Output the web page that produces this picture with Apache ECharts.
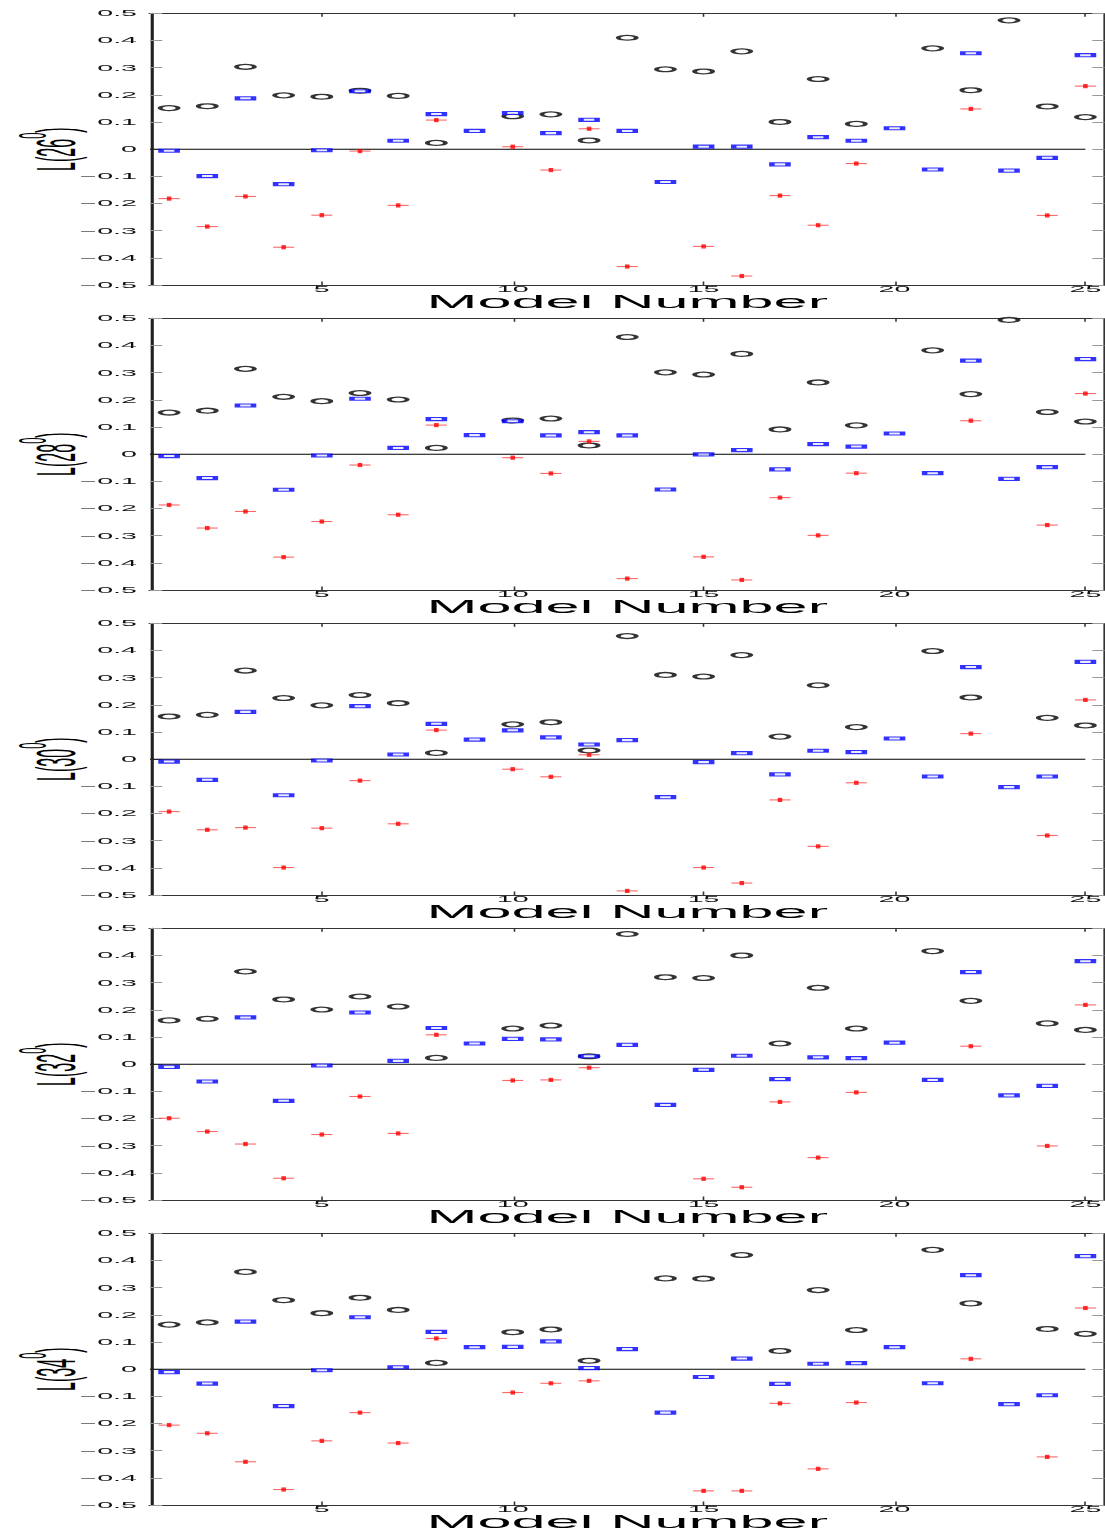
<!DOCTYPE html>
<html><head><meta charset="utf-8">
<script src="https://cdn.jsdelivr.net/npm/echarts@6/dist/echarts.min.js"></script>
<style>
html,body{margin:0;padding:0;background:#fff;overflow:hidden;width:1105px;height:1531px}
#c{width:315.714px;height:1531px;transform:scaleX(3.5);transform-origin:0 0;}
</style>
</head><body><div id="c"></div>
<script>
// ---- data ----
const models = [1,2,3,4,5,6,7,8,9,10,11,12,13,14,15,16,17,18,19,20,21,22,23,24,25];
const angles = ['26','28','30','32','34'];
const xTickValues = [5,10,15,20,25];

const black26 = [0.151,0.158,0.303,0.198,0.193,0.215,0.196,0.023,null,0.121,0.128,0.032,0.410,0.294,0.286,0.360,0.100,0.258,0.093,null,0.371,0.217,0.474,0.157,0.118];
const blue26  = [-0.006,-0.099,0.187,-0.129,-0.004,0.213,0.031,0.129,0.067,0.133,0.059,0.108,0.067,-0.121,0.009,0.009,-0.056,0.044,0.031,0.077,-0.075,0.353,-0.079,-0.032,0.346];
const red26   = [-0.182,-0.285,-0.174,-0.361,-0.243,-0.007,-0.207,0.107,null,0.009,-0.077,0.075,-0.432,null,-0.358,-0.467,-0.171,-0.280,-0.053,null,null,0.148,null,-0.244,0.232];

const black28 = [0.153,0.160,0.314,0.211,0.195,0.225,0.201,0.023,null,0.124,0.131,0.032,0.431,0.301,0.293,0.369,0.091,0.264,0.106,null,0.382,0.221,0.494,0.155,0.120];
const blue28  = [-0.007,-0.088,0.179,-0.131,-0.005,0.204,0.023,0.129,0.070,0.121,0.069,0.081,0.069,-0.130,-0.001,0.015,-0.056,0.037,0.028,0.076,-0.070,0.344,-0.091,-0.048,0.350];
const red28   = [-0.187,-0.272,-0.211,-0.379,-0.248,-0.040,-0.223,0.107,null,-0.013,-0.071,0.047,-0.458,null,-0.378,-0.463,-0.160,-0.299,-0.070,null,null,0.123,null,-0.261,0.223];

const black30 = [0.157,0.163,0.326,0.225,0.198,0.236,0.206,0.023,null,0.128,0.136,0.032,0.453,0.310,0.304,0.383,0.083,0.272,0.118,null,0.398,0.227,null,0.152,0.124];
const blue30  = [-0.009,-0.076,0.174,-0.133,-0.005,0.195,0.017,0.130,0.072,0.106,0.080,0.054,0.070,-0.140,-0.011,0.022,-0.056,0.031,0.026,0.076,-0.064,0.339,-0.103,-0.064,0.358];
const red30   = [-0.193,-0.260,-0.252,-0.399,-0.254,-0.079,-0.238,0.107,null,-0.037,-0.065,0.016,-0.485,null,-0.399,-0.456,-0.150,-0.321,-0.087,null,null,0.094,null,-0.281,0.218];

const black32 = [0.161,0.167,0.341,0.238,0.201,0.249,0.212,0.023,null,0.131,0.142,0.029,0.479,0.320,0.317,0.400,0.076,0.281,0.131,null,0.416,0.233,null,0.150,0.126];
const blue32  = [-0.010,-0.064,0.172,-0.135,-0.005,0.190,0.012,0.133,0.076,0.093,0.091,0.029,0.071,-0.150,-0.021,0.031,-0.055,0.025,0.022,0.079,-0.058,0.339,-0.115,-0.080,0.379];
const red32   = [-0.199,-0.248,-0.294,-0.420,-0.259,-0.119,-0.255,0.108,null,-0.060,-0.058,-0.013,null,null,-0.422,-0.453,-0.139,-0.344,-0.104,null,null,0.066,null,-0.301,0.218];

const black34 = [0.164,0.172,0.358,0.254,0.206,0.263,0.218,0.023,null,0.136,0.146,0.031,null,0.334,0.333,0.420,0.067,0.291,0.144,null,0.439,0.242,null,0.148,0.130];
const blue34  = [-0.011,-0.053,0.175,-0.136,-0.004,0.191,0.007,0.137,0.081,0.082,0.102,0.004,0.074,-0.160,-0.029,0.039,-0.054,0.020,0.022,0.081,-0.052,0.346,-0.129,-0.096,0.416];
const red34   = [-0.206,-0.236,-0.341,-0.443,-0.264,-0.160,-0.272,0.113,null,-0.086,-0.052,-0.043,null,null,-0.448,-0.448,-0.126,-0.367,-0.123,null,null,0.038,null,-0.323,0.225];

const blacks = [black26, black28, black30, black32, black34];
const blues  = [blue26, blue28, blue30, blue32, blue34];
const reds   = [red26, red28, red30, red32, red34];

// ---- chart ----
const S = 3.5;               // horizontal stretch of the whole figure
const W = 1105 / S;
const FONT = 'Liberation Sans';

function pairs(vals){
  return models.map((m,i)=>[m, vals[i]]).filter(d => d[1] !== null);
}
function yFmt(v){
  if (Math.abs(v) < 1e-9) return '0';
  return (v < 0 ? '\u2212' : '') + Math.abs(v).toFixed(1);
}

const grids = [], xAxes = [], yAxes = [], series = [];
angles.forEach((ang, k) => {
  const top = 13.3 + 305 * k;
  grids.push({left: 42.86, right: 0.15, top: top, height: 271.7,
              containLabel: false, outerBoundsMode: 'none'});
  const xBase = {
    type: 'value', gridIndex: k, min: 0.5, max: 25.5,
    splitLine: {show: false},
    axisLine: {show: true, onZero: false, lineStyle: {color: '#333', width: 1}},
    axisTick: {show: true, inside: true, length: 3.5, customValues: xTickValues,
               lineStyle: {color: '#333', width: 0.45}}
  };
  xAxes.push(Object.assign({}, xBase, {
    position: 'bottom',
    axisLabel: {show: true, customValues: xTickValues, margin: 0.5, fontSize: 8.2, lineHeight: 7,
                fontFamily: FONT, color: '#111'},
    name: 'Model Number', nameLocation: 'middle', nameGap: 9.5, nameMoveOverlap: false,
    nameTextStyle: {fontSize: 17.5, lineHeight: 14, fontFamily: FONT, color: '#000'}
  }));
  xAxes.push(Object.assign({}, xBase, {position: 'top', axisLabel: {show: false}}));
  const yBase = {
    type: 'value', gridIndex: k, min: -0.5, max: 0.5, interval: 0.1,
    splitLine: {show: false},
    axisTick: {show: true, inside: true, length: 3.5, lineStyle: {color: '#999', width: 1}}
  };
  yAxes.push(Object.assign({}, yBase, {
    position: 'left',
    axisLine: {show: true, onZero: false, lineStyle: {color: '#222', width: 0.9}},
    axisLabel: {show: true, margin: 3.7, fontSize: 8.2, fontFamily: FONT, color: '#111',
                formatter: yFmt, showMinLabel: true, showMaxLabel: true},
    name: '{n|L(' + ang + '}{s|0}{n|)}', nameLocation: 'middle', nameRotate: 90, nameGap: 19,
    nameMoveOverlap: false,
    nameTextStyle: {
      rich: {
        n: {fontSize: 16, fontFamily: FONT, color: '#000', lineHeight: 20, verticalAlign: 'bottom'},
        s: {fontSize: 11, fontFamily: FONT, color: '#000', lineHeight: 11, verticalAlign: 'top'}
      }
    }
  }));
  yAxes.push(Object.assign({}, yBase, {
    position: 'right',
    axisLine: {show: true, onZero: false, lineStyle: {color: '#333', width: 0.5}},
    axisLabel: {show: false}
  }));

  const xi = 2 * k, yi = 2 * k;
  series.push({
    type: 'line', xAxisIndex: xi, yAxisIndex: yi, data: [[0.5, 0], [25, 0]],
    symbol: 'none', silent: true, z: 1,
    lineStyle: {color: '#000', width: 1}
  });
  series.push({
    type: 'scatter', xAxisIndex: xi, yAxisIndex: yi, data: pairs(blacks[k]),
    symbol: 'circle', symbolSize: [5.2, 4.8], silent: true, z: 2,
    itemStyle: {color: '#fff', borderColor: '#000', borderWidth: 1.3}
  });
  series.push({
    type: 'scatter', xAxisIndex: xi, yAxisIndex: yi, data: pairs(blues[k]),
    symbol: 'rect', symbolSize: [4.6, 3.1], silent: true, z: 3,
    itemStyle: {color: '#e6e6ff', borderColor: '#0000ff', borderWidth: 1.3}
  });
  series.push({
    type: 'scatter', xAxisIndex: xi, yAxisIndex: yi, data: pairs(reds[k]),
    symbol: 'rect', symbolSize: [6, 1.1], silent: true, z: 4,
    itemStyle: {color: '#ff4040'}
  });
  series.push({
    type: 'scatter', xAxisIndex: xi, yAxisIndex: yi, data: pairs(reds[k]),
    symbol: 'rect', symbolSize: [1.3, 4.2], silent: true, z: 5,
    itemStyle: {color: '#ff0000'}
  });
});

const chart = echarts.init(document.getElementById('c'), null, {renderer: 'svg', width: W, height: 1531});
chart.setOption({
  animation: false,
  backgroundColor: '#fff',
  grid: grids, xAxis: xAxes, yAxis: yAxes, series: series
});
</script>
</body></html>
